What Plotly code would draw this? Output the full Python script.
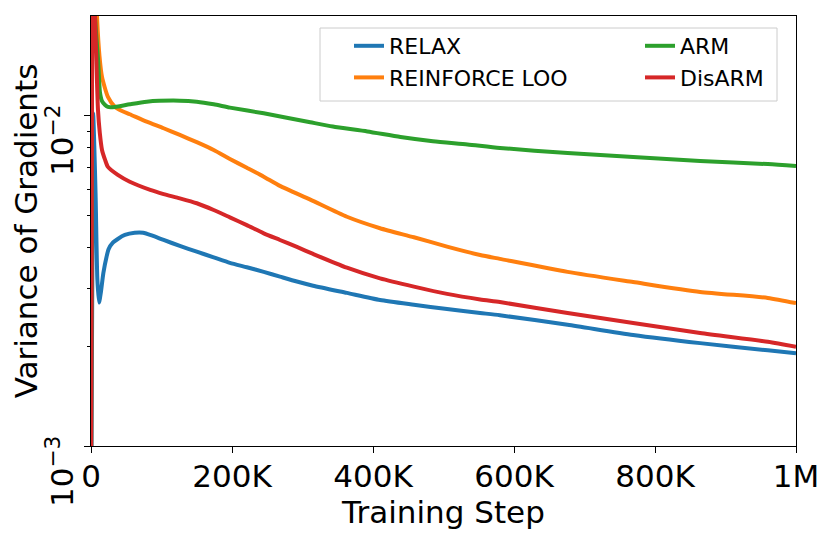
import math
import plotly.graph_objects as go

# ---------------- data ----------------
relax_steps = [0, 3000, 6500, 9000, 11400, 14000, 17500, 22000, 25000, 31000, 38000, 48000,
               62000, 74000, 88000, 103000, 126000, 150000, 174000, 197000, 221000, 245000, 268000,
               292000, 315000, 363000, 410000, 458000, 505000, 552000, 580000, 676000, 769000,
               864000, 960000, 1000000]
relax_var = [0.0005, 0.0102, 0.0058, 0.0032, 0.00272, 0.00292, 0.00334, 0.00374, 0.00395, 0.00413,
             0.00424, 0.00436, 0.00443, 0.00443, 0.00433, 0.00421, 0.00404, 0.00388, 0.00373, 0.00359,
             0.00348, 0.00337, 0.00326, 0.00315, 0.00306, 0.00291, 0.00277, 0.00268, 0.00260, 0.00253,
             0.00249, 0.00233, 0.00217, 0.00205, 0.00195, 0.00191]

loo_steps = [0, 2000, 8500, 12000, 15600, 24000, 34000, 44000, 55000, 79000, 103000, 126000, 150000,
             174000, 197000, 221000, 245000, 268000, 311000, 363000, 410000, 458000, 505000, 552000,
             580000, 676000, 769000, 864000, 960000, 1000000]
loo_var = [0.0005, 0.05, 0.020, 0.0152, 0.01313, 0.01142, 0.01065, 0.01035, 0.01012, 0.00961, 0.00918,
           0.00876, 0.00833, 0.00789, 0.00741, 0.00697, 0.00655, 0.00614, 0.00558, 0.00495, 0.00457,
           0.00429, 0.00402, 0.00379, 0.00369, 0.00337, 0.00314, 0.00293, 0.00281, 0.00271]

arm_steps = [0, 2000, 5700, 10000, 12800, 15600, 20000, 24000, 34000, 55000, 79000, 126000, 150000,
             174000, 197000, 245000, 311000, 343000, 392000, 439000, 485000, 534000, 580000, 676000,
             769000, 864000, 960000, 1000000]
arm_var = [0.0005, 0.05, 0.020, 0.0148, 0.01175, 0.0111, 0.0108, 0.01065, 0.01065, 0.01085, 0.01105,
           0.01113, 0.01105, 0.01085, 0.01060, 0.01019, 0.00957, 0.00929, 0.00898, 0.00864, 0.00839,
           0.00820, 0.00800, 0.00772, 0.00751, 0.00731, 0.00715, 0.00705]

disarm_steps = [0, 2000, 5700, 7500, 9900, 12500, 15600, 20000, 24000, 38000, 55000, 84000, 103000,
                126000, 150000, 174000, 197000, 221000, 245000, 268000, 292000, 315000, 363000, 410000,
                458000, 505000, 552000, 580000, 676000, 769000, 864000, 960000, 1000000]
disarm_var = [0.0005, 0.04, 0.020, 0.0150, 0.01043, 0.00888, 0.00789, 0.00736, 0.00701, 0.00663, 0.00632,
              0.00597, 0.00580, 0.00563, 0.00544, 0.00519, 0.00493, 0.00467, 0.00441, 0.00421, 0.00401,
              0.00382, 0.00347, 0.00322, 0.00304, 0.00289, 0.00278, 0.00273, 0.00253, 0.00236, 0.00220,
              0.00207, 0.00200]

series_names = ["RELAX", "REINFORCE LOO", "ARM", "DisARM"]
series_colors = ["#1f77b4", "#ff7f0e", "#2ca02c", "#d62728"]
series_legend = ["legend", "legend", "legend2", "legend2"]

x_tick_vals = [0, 200000, 400000, 600000, 800000, 1000000]
x_tick_text = ["0", "200K", "400K", "600K", "800K", "1M"]
y_major_vals = [0.001, 0.01]
y_major_text = ["10<sup>−3</sup>", "10<sup>−2</sup>"]
y_minor_vals = [0.002, 0.003, 0.004, 0.005, 0.006, 0.007, 0.008, 0.009]

FONT = "DejaVu Sans"
PAGE_OFF = 8  # default body margin of the html page
W, H = 831 - PAGE_OFF, 536 - PAGE_OFF
L, R, T, B = 91 - PAGE_OFF, 35, 16 - PAGE_OFF, 90
PW, PH = W - L - R, H - T - B


def px_x(p):  # page pixel -> paper fraction
    return (p - PAGE_OFF - L) / PW


def px_y(p):
    return (H - B - (p - PAGE_OFF)) / PH


fig = go.Figure()
all_steps = [relax_steps, loo_steps, arm_steps, disarm_steps]
all_vars = [relax_var, loo_var, arm_var, disarm_var]
for name, color, lg, xs, ys in zip(series_names, series_colors, series_legend, all_steps, all_vars):
    fig.add_trace(go.Scatter(x=xs, y=ys, mode="lines", name=name, legend=lg,
                             line=dict(color=color, width=4, shape="spline", smoothing=0.6)))

axis_common = dict(showline=True, linecolor="black", linewidth=1.2, mirror=True,
                   ticks="outside", ticklen=6, tickwidth=1.2, tickcolor="black",
                   showgrid=False, zeroline=False, automargin=False)

legend_common = dict(orientation="v", yanchor="top", xanchor="left",
                     bgcolor="rgba(0,0,0,0)", borderwidth=0,
                     font=dict(size=22, family=FONT, color="black"), tracegroupgap=0)

fig.update_layout(
    width=W, height=H,
    margin=dict(l=L, r=R, t=T, b=B),
    paper_bgcolor="white", plot_bgcolor="white",
    font=dict(family=FONT, color="black", size=31),
    xaxis=dict(range=[0, 1000000], tickmode="array", tickvals=x_tick_vals, ticktext=x_tick_text,
               tickfont=dict(size=31), ticklabelstandoff=-3,
               title=dict(text="Training Step", font=dict(size=31), standoff=2),
               **axis_common),
    yaxis=dict(type="log", range=[-3, -1.697], tickmode="array", tickvals=y_major_vals,
               showticklabels=False,
               minor=dict(tickmode="array", tickvals=y_minor_vals, ticks="outside", ticklen=3,
                          tickwidth=1, tickcolor="black", showgrid=False),
               title=dict(text="Variance of Gradients", font=dict(size=31), standoff=40),
               **axis_common),
    legend=dict(x=px_x(349), y=px_y(25), **legend_common),
    legend2=dict(x=px_x(640), y=px_y(25), **legend_common),
    showlegend=True,
)

# legend frame
fig.add_shape(type="rect", xref="paper", yref="paper",
              x0=px_x(320), x1=px_x(777), y0=px_y(101), y1=px_y(28),
              line=dict(color="#cccccc", width=1), fillcolor="rgba(255,255,255,0.85)",
              layer="above")

for val, txt, shift in zip(y_major_vals, y_major_text, [-26, -25]):
    fig.add_annotation(x=px_x(60), xref="paper", y=math.log10(val), yref="y", text=txt,
                       textangle=-90, showarrow=False, xanchor="center", yanchor="middle",
                       yshift=shift, font=dict(size=31, family=FONT, color="black"))

fig.write_html("out.html")
